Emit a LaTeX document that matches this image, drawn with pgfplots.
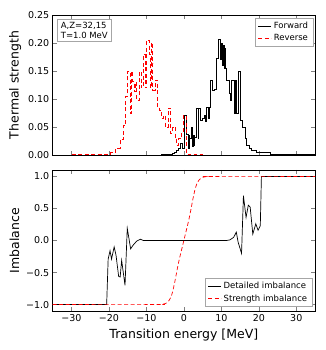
\documentclass[border=0pt]{standalone}
\usepackage{fontspec}
\setmainfont{DejaVu Sans}
\usepackage{pgfplots}
\pgfplotsset{compat=1.18}

\pgfplotsset{
  panel/.style={
    scale only axis, width=262.3pt,
    xmin=-35, xmax=35,
    xtick={-30,-20,-10,0,10,20,30},
    tick align=inside, major tick length=4pt,
    tick label style={font=\fontsize{9.5}{11}\selectfont},
    label style={font=\fontsize{12.5}{14}\selectfont},
    axis line style={line width=0.6pt},
    legend style={font=\fontsize{8.5}{10}\selectfont, draw=black!35,
      inner xsep=3pt, inner ysep=2pt, row sep=0.5pt},
    legend cell align=left,
    legend image code/.code={\draw[#1, mark=none, sharp plot] (0pt,0pt) -- (13pt,0pt);},
  },
}

\begin{document}
\begin{tikzpicture}
\useasboundingbox (0,0) rectangle (325pt,350pt);

% top: thermal strength
\begin{axis}[panel,
  at={(52.7pt,195pt)}, anchor=south west, height=140pt,
  ymin=0, ymax=0.25,
  ytick={0,0.05,0.10,0.15,0.20,0.25},
  yticklabels={0.00,0.05,0.10,0.15,0.20,0.25},
  xticklabels={},
  ylabel={Thermal strength},
  legend style={at={(0.993,0.978)}, anchor=north east},
]
\addplot[const plot mark left, black, line width=0.7pt] coordinates {
(-35,0) (-8,0) (-6,0.0005) (-5,0.001) (-4,0.002) (-3,0.003) (-2.5,0.005)
(-2,0.008) (-1.5,0.012) (-1,0.021) (-0.5,0.012) (0.1,0.070) (0.7,0.036)
(1.1,0.012) (1.3,0.035) (1.5,0.012) (1.6,0.030) (1.9,0.050) (2.2,0.015) (2.5,0.035) (2.7,0.018) (2.9,0.032)
(3.4,0.084) (3.8,0.030) (4.0,0.084) (4.3,0.062) (4.9,0.066) (5.5,0.070)
(5.8,0.060) (6.1,0.085) (6.5,0.065) (6.8,0.085) (7.0,0.134) (7.6,0.116) (8.2,0.118) (8.8,0.173)
(9.2,0.207) (9.7,0.170) (10.0,0.200) (10.2,0.160) (10.5,0.196) (10.8,0.155) (11.0,0.190) (11.2,0.155)
(11.4,0.134) (12.1,0.110) (12.5,0.098) (12.8,0.134) (13.4,0.075) (13.7,0.134)
(14.0,0.075) (14.5,0.149) (15.2,0.062) (15.7,0.050) (16.3,0.030) (16.8,0.018)
(17.5,0.012) (18.1,0.008) (19.4,0.004) (23.0,0.002) (26.0,0.001) (30.0,0.0005) (35,0)
};
\addlegendentry{Forward}
\addplot[const plot mark left, red, line width=0.7pt, dash pattern=on 4pt off 2.5pt] coordinates {
(-35,0) (-30,0.0005) (-24,0.001) (-21,0.002) (-19.5,0.004) (-18.3,0.012)
(-17.0,0.028) (-16.1,0.053) (-15.5,0.104) (-15.0,0.149) (-14.35,0.075)
(-14.0,0.149) (-13.7,0.131) (-13.2,0.113) (-12.9,0.130) (-12.6,0.098)
(-11.9,0.149) (-11.4,0.120) (-10.8,0.179) (-10.4,0.120) (-9.9,0.205)
(-9.3,0.180) (-9.0,0.120) (-8.8,0.200) (-8.5,0.164) (-8.3,0.116) (-7.7,0.134)
(-7.1,0.086) (-6.5,0.080) (-6.0,0.065) (-5.6,0.070) (-5.0,0.050) (-4.1,0.084)
(-3.5,0.039) (-3.0,0.050) (-2.35,0.030) (-1.9,0.018) (-1.45,0.030)
(-0.57,0.040) (-0.12,0.070) (0.59,0.002) (1.5,0.001) (3,0.0005) (5,0) (35,0)
};
\addlegendentry{Reverse}
\node[draw=black!35, anchor=north west, align=left,
  font=\fontsize{8.5}{10.5}\selectfont, inner xsep=3.5pt, inner ysep=2.5pt]
  at (rel axis cs:0.017,0.97) {A,Z=32,15\\T=1.0 MeV};
\end{axis}

% bottom: imbalance
\begin{axis}[panel,
  at={(52.7pt,39pt)}, anchor=south west, height=141pt,
  ymin=-1.1, ymax=1.1,
  ytick={-1,-0.5,0,0.5,1},
  yticklabels={−1.0,−0.5,0.0,0.5,1.0},
  xticklabels={−30,−20,−10,0,10,20,30},
  ylabel={Imbalance},
  xlabel={Transition energy [MeV]},
  legend style={at={(0.99,0.03)}, anchor=south east},
]
\addplot[black, line width=0.7pt] coordinates {
(-35,-1) (-20.6,-1) (-20.2,-0.29) (-19.7,-0.16) (-19.3,-0.29) (-18.6,-0.10)
(-18.1,-0.23) (-17.4,-0.56) (-17.0,-0.57) (-16.6,-0.31) (-15.7,-0.70)
(-15.1,0.19) (-14.2,-0.13) (-13.5,-0.07) (-12.6,-0.01) (-11.6,0.02) (-10.8,0.0)
(11.4,0.0) (12.3,0.01) (13.3,0.05) (14.0,0.13) (14.5,-0.03) (15.4,-0.20)
(15.9,0.70) (16.6,0.36) (17.2,0.55) (17.7,0.52) (18.4,0.10) (19.2,0.26)
(19.8,0.16) (20.4,0.23) (20.7,1.0) (35,1.0)
};
\addlegendentry{Detailed imbalance}
\addplot[red, smooth, line width=0.7pt, dash pattern=on 4pt off 2.5pt] coordinates {
(-35,-1) (-7,-1) (-6,-0.997) (-5,-0.985) (-4.5,-0.97) (-4,-0.94) (-3.5,-0.89)
(-3,-0.80) (-2.5,-0.67) (-2,-0.52) (-1.5,-0.37) (-1,-0.24) (-0.5,-0.12) (0,0)
(0.5,0.12) (1,0.24) (1.5,0.37) (2,0.52) (2.5,0.67) (3,0.80) (3.5,0.89)
(4,0.94) (4.5,0.97) (5,0.985) (6,0.997) (7,1) (35,1)
};
\addlegendentry{Strength imbalance}
\end{axis}
\end{tikzpicture}
\end{document}
